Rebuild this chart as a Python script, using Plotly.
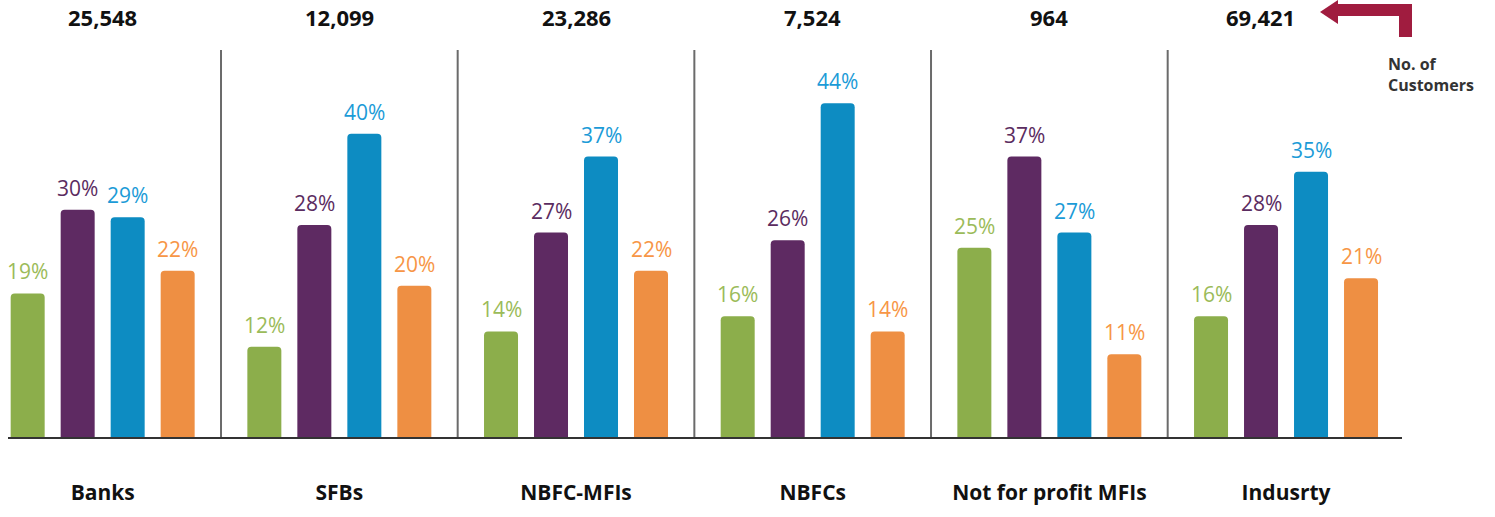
import plotly.graph_objects as go

categories = ["Banks", "SFBs", "NBFC-MFIs", "NBFCs", "Not for profit MFIs", "Indusrty"]
customers = ["25,548", "12,099", "23,286", "7,524", "964", "69,421"]
series_names = ["Series 1", "Series 2", "Series 3", "Series 4"]
series_values = [
    [19, 12, 14, 16, 25, 16],
    [30, 28, 27, 26, 37, 28],
    [29, 40, 37, 44, 27, 35],
    [22, 20, 22, 14, 11, 21],
]
bar_colors = ["#8CAE4B", "#5E2A62", "#0D8CC2", "#EE8F43"]
text_colors = ["#9BBB59", "#5B2C60", "#1B9BD7", "#F79646"]

W, H = 1495, 517
L, T = 8, 50
PW = 1402 - 8
PH = 438 - 50
R, B = W - L - PW, H - T - PH

BARGAP = 0.155
XRANGE = [-0.4, 5.49]


def px_x(x):
    return (x - L) / PW


def px_y(y):
    return (438 - y) / PH


fig = go.Figure()
for name, vals, bc in zip(series_names, series_values, bar_colors):
    fig.add_trace(go.Bar(
        x=categories, y=vals, name=name,
        marker=dict(color=bc, line=dict(width=0), cornerradius=4),
        showlegend=False, hoverinfo="x+y",
    ))

annotations = []
slot = (1 - BARGAP) / len(series_values)
for j, (vals, tc) in enumerate(zip(series_values, text_colors)):
    for i, v in enumerate(vals):
        annotations.append(dict(
            x=i + (j - (len(series_values) - 1) / 2) * slot, y=v, xref="x", yref="y",
            text=f"{v}%", showarrow=False, yanchor="bottom", yshift=6,
            font=dict(size=21, family="Open Sans", color=tc)))

shapes = []
for i in range(len(categories) - 1):
    shapes.append(dict(type="line", xref="x", yref="paper", x0=i + 0.5, x1=i + 0.5,
                       y0=0, y1=1, line=dict(color="#6b6b6b", width=2)))
shapes.append(dict(type="line", xref="paper", yref="paper", x0=0, x1=1, y0=0, y1=0,
                   line=dict(color="#333333", width=2)))
pts = [(1320, 12), (1338, 0), (1338, 4), (1412, 4), (1412, 37), (1399, 37),
       (1399, 16), (1338, 16), (1338, 24)]
path = "M " + " L ".join(f"{px_x(x):.5f},{px_y(y):.5f}" for x, y in pts) + " Z"
shapes.append(dict(type="path", xref="paper", yref="paper", path=path,
                   fillcolor="#A01C3F", line=dict(width=0)))

for k, (c, n) in enumerate(zip(categories, customers)):
    annotations.append(dict(x=c, y=px_y(17), xref="x", yref="paper", text=n,
                            showarrow=False, yanchor="middle",
                            xshift=-26 if k == len(categories) - 1 else 0,
                            font=dict(size=22, family="Open Sans", color="#111111",
                                      weight="bold")))
annotations.append(dict(x=px_x(1386), y=px_y(51), xref="paper", yref="paper",
                        text="No. of<br>Customers", showarrow=False, align="left",
                        xanchor="left", yanchor="top",
                        font=dict(size=16, family="Open Sans", color="#333333",
                                  weight="bold")))

fig.update_layout(
    width=W, height=H,
    margin=dict(l=L, r=R, t=T, b=B, pad=0),
    paper_bgcolor="white", plot_bgcolor="white",
    barmode="group", bargap=BARGAP, bargroupgap=0.32,
    xaxis=dict(range=XRANGE, showgrid=False, zeroline=False, showline=False,
               ticks="", ticklabelstandoff=40,
               tickfont=dict(size=21, family="Open Sans", color="#111111", weight="bold")),
    yaxis=dict(range=[0, 51], visible=False),
    shapes=shapes, annotations=annotations,
)

fig.write_html("out.html", config={"displayModeBar": False},
               post_script="document.body.style.margin='0px';document.body.style.overflow='hidden';")
